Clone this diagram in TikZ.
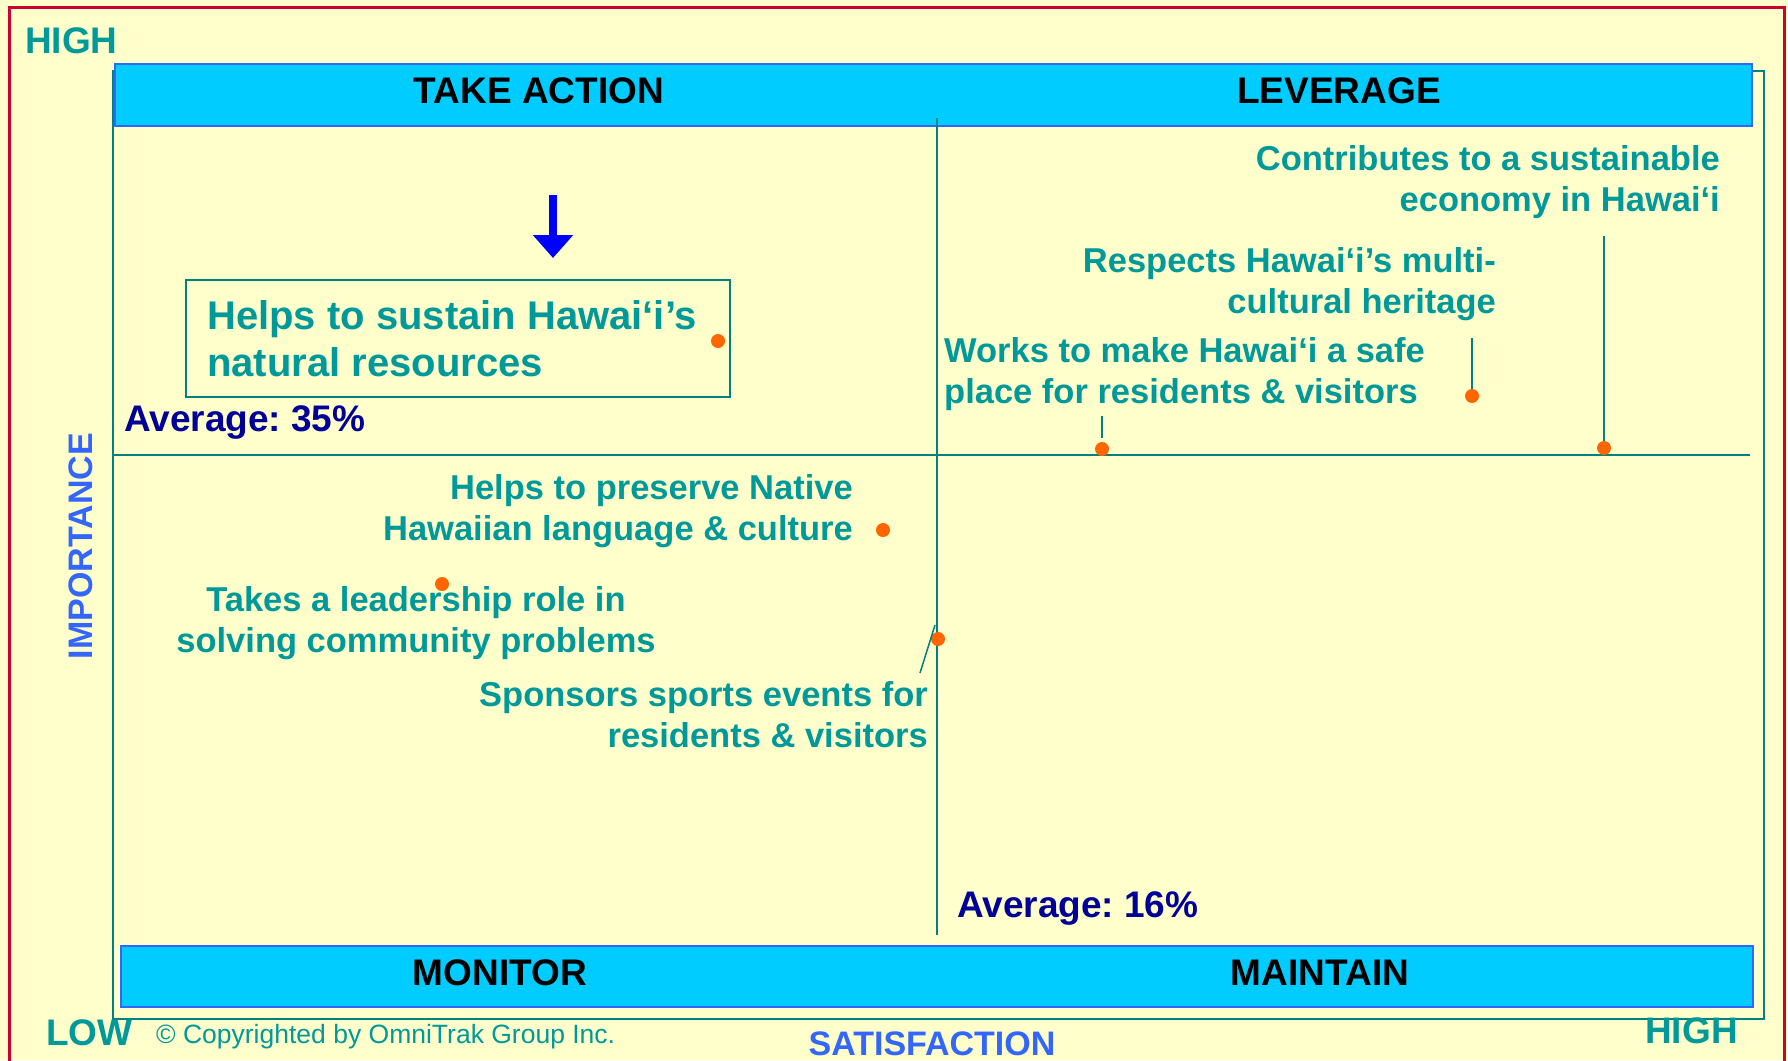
\documentclass[tikz,border=0pt]{standalone}
\usepackage{fontspec}
\setmainfont{Liberation Sans}
\usetikzlibrary{arrows.meta}
\definecolor{bgyellow}{HTML}{FFFFCC}
\definecolor{frred}{HTML}{CC0033}
\definecolor{tealtxt}{HTML}{009999}
\definecolor{tealline}{HTML}{008080}
\definecolor{barcyan}{HTML}{00CCFF}
\definecolor{barblue}{HTML}{3366FF}
\definecolor{dotorange}{HTML}{FF6600}
\definecolor{avgnavy}{HTML}{000099}
\definecolor{arrblue}{HTML}{0000FF}
\newcommand{\twoln}[3]{\begin{tabular}[t]{@{}#1@{}}#2\\#3\end{tabular}}
\frenchspacing
\begin{document}
\begin{tikzpicture}[x=1pt,y=-1pt,
  lbl/.style={inner sep=0pt, text=tealtxt, font=\fontsize{34.5}{41.5}\bfseries\selectfont},
  biglbl/.style={inner sep=0pt, text=tealtxt, font=\fontsize{40}{47}\bfseries\selectfont},
  quad/.style={inner sep=0pt, text=black, font=\fontsize{37}{44}\bfseries\selectfont, anchor=base},
  avg/.style={inner sep=0pt, text=avgnavy, font=\fontsize{37}{44}\bfseries\selectfont, anchor=base west},
  axlbl/.style={inner sep=0pt, text=tealtxt, font=\fontsize{37}{44}\bfseries\selectfont, anchor=base west},
  axname/.style={inner sep=0pt, text=barblue, font=\fontsize{34}{40}\bfseries\selectfont},
  dot/.style={circle, fill=dotorange, inner sep=0pt, minimum size=14pt},
  leader/.style={draw=tealline, line width=1.5pt},
  axis/.style={draw=tealline, line width=2pt},
  bar/.style={fill=barcyan, draw=barblue, line width=2.5pt}
]
\useasboundingbox (0,0) rectangle (1788,1060);
\clip (0,0) rectangle (1788,1060);
\fill[bgyellow] (0,0) rectangle (1788,1060);
\draw[frred, line width=3pt] (9,1080) -- (9,7) -- (1784,7) -- (1784,1080);
% frame
\draw[axis] (113,71) rectangle (1764,1019);
% bars
\draw[bar] (115,64) rectangle (1752,126);
\draw[bar] (121,946) rectangle (1753,1007);
% axes
\draw[axis] (937,118) -- (937,935);
\draw[axis] (113,455) -- (1750,455);
% quadrant labels
\node[quad] (takeaction) at (539,103) {TAKE ACTION};
\node[quad] (leverage) at (1339,103) {LEVERAGE};
\node[quad] (monitor) at (500,985) {MONITOR};
\node[quad] (maintain) at (1320,985) {MAINTAIN};
% axis labels
\node[axlbl] (hightl) at (25,53) {HIGH};
\node[axlbl] (low) at (46,1045) {LOW};
\node[axlbl] (highbr) at (1645,1043) {HIGH};
\node[inner sep=0pt, text=tealtxt, font=\fontsize{26.5}{32}\selectfont, anchor=base west] (copy) at (156,1043) {© Copyrighted by OmniTrak Group Inc.};
\node[axname, anchor=base] (satis) at (932,1055) {SATISFACTION};
\node[axname, rotate=90] (imp) at (81,546) {IMPORTANCE};
% averages
\node[avg] (avg35) at (124,431) {Average: 35\%};
\node[avg] (avg16) at (957,917) {Average: 16\%};
% labels
\node[lbl, anchor=base east] (contrib) at (1720,170) {\twoln{r}{Contributes to a sustainable}{economy in Hawai‘i}};
\node[lbl, anchor=base east] (respects) at (1496,272) {\twoln{r}{Respects Hawai‘i’s multi-}{cultural heritage}};
\node[lbl, anchor=base west] (works) at (944,362) {\twoln{l}{Works to make Hawai‘i a safe}{place for residents \& visitors}};
\node[lbl, anchor=base east] (preserve) at (853,499) {\twoln{r}{Helps to preserve Native}{Hawaiian language \& culture}};
\node[lbl, anchor=base] (takes) at (416,611) {\twoln{c}{Takes a leadership role in}{solving community problems}};
\node[lbl, anchor=base east] (sponsors) at (928,706) {\twoln{r}{Sponsors sports events for}{residents \& visitors}};
% boxed item
\node[draw=tealline, line width=2pt, inner sep=0pt, minimum width=544pt, minimum height=117pt, anchor=north west] (boxframe) at (185,279) {};
\node[biglbl, anchor=base west] (sustain) at (207,329) {\twoln{l}{Helps to sustain Hawai‘i’s}{natural resources}};
% arrow
\coordinate (arrtop) at (553,195);
\coordinate (arrtip) at (553,258);
\draw[arrblue, line width=8pt, -{Triangle[length=23pt,width=39pt]}] (arrtop) -- (arrtip);
% dots
\node[dot] (d1) at (1604,448) {};
\node[dot] (d2) at (1472,396) {};
\node[dot] (d3) at (1102,449) {};
\node[dot] (d4) at (718,341) {};
\node[dot] (d5) at (883,530) {};
\node[dot] (d6) at (442,584) {};
\node[dot] (d7) at (938,639) {};
% leaders
\coordinate (c1) at (1604,236);
\coordinate (c2) at (1472,338);
\coordinate (c3) at (1102,416);
\coordinate (s1) at (920,673);
\coordinate (s2) at (935,625);
\draw[leader] (c1) -- (d1);
\draw[leader] (c2) -- (d2);
\draw[leader, shorten >=4pt] (c3) -- (d3);
\draw[leader] (s1) -- (s2);
\end{tikzpicture}
\end{document}
